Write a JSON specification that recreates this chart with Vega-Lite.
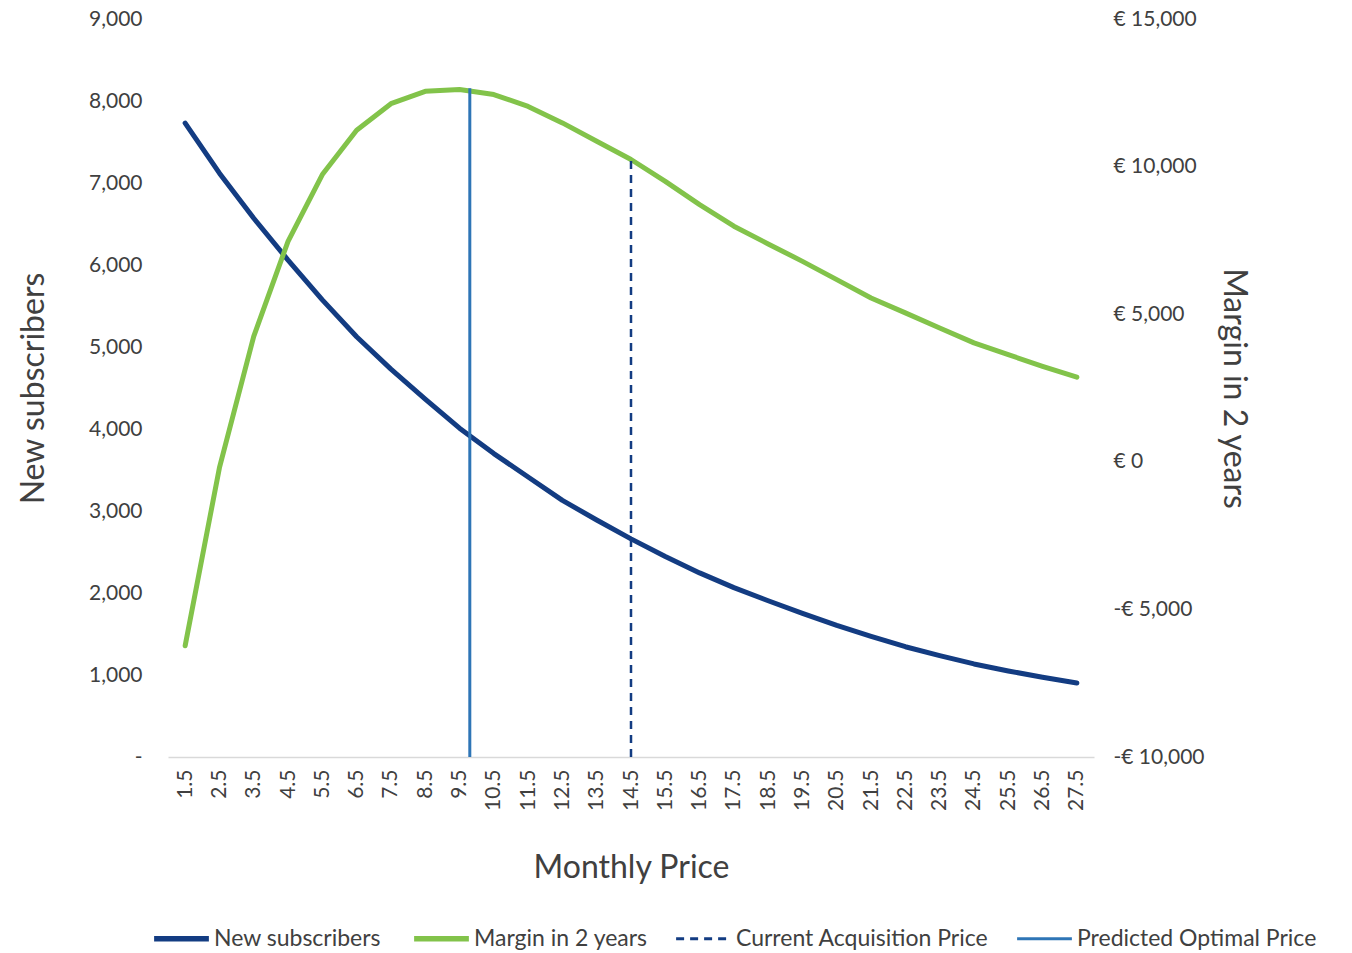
{
  "$schema": "https://vega.github.io/schema/vega-lite/v6.json",
  "width": 926,
  "height": 738,
  "autosize": "none",
  "padding": {"left": 168, "top": 19, "right": 258, "bottom": 196},
  "config": {
    "font": "Lato",
    "view": {"stroke": null},
    "axis": {
      "labelColor": "#404040",
      "titleColor": "#404040",
      "labelFontSize": 21,
      "titleFontSize": 32,
      "titleFontWeight": "normal",
      "grid": false,
      "ticks": false,
      "domain": false
    }
  },
  "datasets": {
    "pricing": [
      {"price": 1.5, "subscribers": 7730, "margin": -6230},
      {"price": 2.5, "subscribers": 7120, "margin": -200},
      {"price": 3.5, "subscribers": 6570, "margin": 4250},
      {"price": 4.5, "subscribers": 6060, "margin": 7470},
      {"price": 5.5, "subscribers": 5575, "margin": 9730},
      {"price": 6.5, "subscribers": 5125, "margin": 11230},
      {"price": 7.5, "subscribers": 4730, "margin": 12130},
      {"price": 8.5, "subscribers": 4365, "margin": 12550},
      {"price": 9.5, "subscribers": 4010, "margin": 12610},
      {"price": 10.5, "subscribers": 3700, "margin": 12440},
      {"price": 11.5, "subscribers": 3415, "margin": 12040},
      {"price": 12.5, "subscribers": 3130, "margin": 11480},
      {"price": 13.5, "subscribers": 2890, "margin": 10860},
      {"price": 14.5, "subscribers": 2660, "margin": 10240},
      {"price": 15.5, "subscribers": 2445, "margin": 9500},
      {"price": 16.5, "subscribers": 2245, "margin": 8710},
      {"price": 17.5, "subscribers": 2065, "margin": 7980},
      {"price": 18.5, "subscribers": 1905, "margin": 7380},
      {"price": 19.5, "subscribers": 1752, "margin": 6790},
      {"price": 20.5, "subscribers": 1605, "margin": 6170},
      {"price": 21.5, "subscribers": 1470, "margin": 5550},
      {"price": 22.5, "subscribers": 1345, "margin": 5045},
      {"price": 23.5, "subscribers": 1236, "margin": 4535},
      {"price": 24.5, "subscribers": 1135, "margin": 4030},
      {"price": 25.5, "subscribers": 1049, "margin": 3630},
      {"price": 26.5, "subscribers": 972, "margin": 3235},
      {"price": 27.5, "subscribers": 902, "margin": 2865}
    ],
    "markers": [
      {"series": "Current Acquisition Price", "price": 14.5, "low": -10000, "high": 10350},
      {"series": "Predicted Optimal Price", "price": 9.8, "low": -10000, "high": 12650}
    ]
  },
  "encoding": {
    "x": {
      "field": "price",
      "type": "quantitative",
      "scale": {"domain": [1, 28], "nice": false, "zero": false},
      "axis": {
        "title": "Monthly Price",
        "values": [1.5, 2.5, 3.5, 4.5, 5.5, 6.5, 7.5, 8.5, 9.5, 10.5, 11.5, 12.5, 13.5, 14.5, 15.5, 16.5, 17.5, 18.5, 19.5, 20.5, 21.5, 22.5, 23.5, 24.5, 25.5, 26.5, 27.5],
        "format": ".1f",
        "labelAngle": -90,
        "labelPadding": 12,
        "labelOverlap": false,
        "labelFlush": false,
        "domain": true,
        "domainColor": "#d9d9d9",
        "domainWidth": 1.5,
        "titlePadding": 42
      }
    }
  },
  "layer": [
    {
      "data": {"name": "pricing"},
      "mark": {"type": "line", "strokeWidth": 5, "strokeCap": "round", "strokeJoin": "round"},
      "encoding": {
        "y": {
          "field": "subscribers",
          "type": "quantitative",
          "scale": {"domain": [0, 9000], "nice": false},
          "axis": {
            "title": "New subscribers",
            "orient": "left",
            "values": [0, 1000, 2000, 3000, 4000, 5000, 6000, 7000, 8000, 9000],
            "labelExpr": "datum.value == 0 ? '-' : format(datum.value, ',')",
            "labelPadding": 26,
            "titlePadding": 38
          }
        },
        "color": {
          "datum": "New subscribers",
          "type": "nominal",
          "title": null,
          "scale": {
            "domain": ["New subscribers", "Margin in 2 years", "Current Acquisition Price", "Predicted Optimal Price"],
            "range": ["#133C82", "#82C34A", "#133C82", "#2E75B6"]
          },
          "legend": {
            "title": null,
            "orient": "none",
            "legendX": 2,
            "legendY": 908,
            "direction": "horizontal",
            "symbolType": "stroke",
            "symbolSize": 3000,
            "symbolStrokeWidth": 5,
            "labelFontSize": 23,
            "labelLimit": 400,
            "labelColor": "#404040",
            "labelOffset": 21,
            "columnPadding": 22,
            "encode": {
              "symbols": {
                "update": {
                  "strokeDash": {"signal": "datum.value === 'Current Acquisition Price' ? [8, 6] : [1, 0]"},
                  "strokeWidth": {"signal": "datum.value === 'Current Acquisition Price' || datum.value === 'Predicted Optimal Price' ? 3 : 5.5"}
                }
              }
            }
          }
        }
      }
    },
    {
      "layer": [
        {
          "data": {"name": "pricing"},
          "mark": {"type": "line", "strokeWidth": 5, "strokeCap": "round", "strokeJoin": "round"},
          "encoding": {
            "y": {
              "field": "margin",
              "type": "quantitative",
              "scale": {"domain": [-10000, 15000], "nice": false, "zero": false},
              "axis": {
                "title": "Margin in 2 years",
                "orient": "right",
                "values": [-10000, -5000, 0, 5000, 10000, 15000],
                "labelExpr": "datum.value < 0 ? '-€ ' + format(-datum.value, ',') : '€ ' + format(datum.value, ',')",
                "labelPadding": 19,
                "titlePadding": 12
              }
            },
            "color": {"datum": "Margin in 2 years", "type": "nominal", "title": null}
          }
        },
        {
          "data": {"name": "markers"},
          "mark": {"type": "rule"},
          "encoding": {
            "y": {"field": "low", "type": "quantitative"},
            "y2": {"field": "high"},
            "color": {"field": "series", "type": "nominal", "title": null},
            "strokeDash": {
              "condition": {"test": "datum.series === 'Current Acquisition Price'", "value": [8, 6]},
              "value": [1, 0]
            },
            "strokeWidth": {
              "condition": {"test": "datum.series === 'Current Acquisition Price'", "value": 2.5},
              "value": 3
            }
          }
        }
      ]
    }
  ],
  "resolve": {"scale": {"y": "independent"}}
}
